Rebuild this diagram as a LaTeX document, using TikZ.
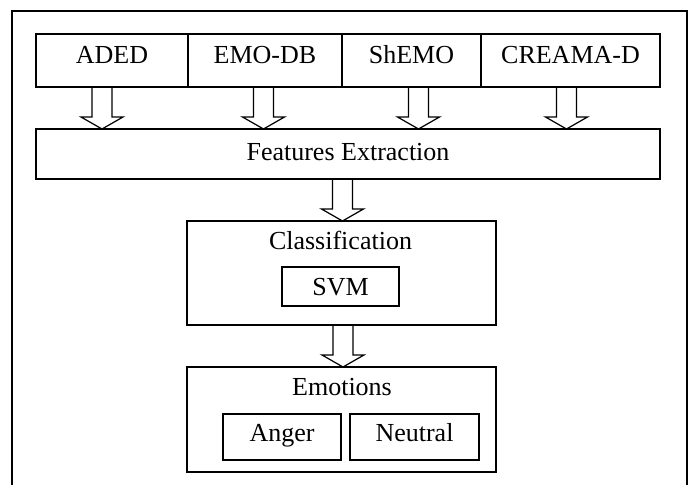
\documentclass[tikz,border=0pt]{standalone}
\usepackage{fontspec}
\setmainfont{Liberation Serif}
\usetikzlibrary{calc}
\begin{document}
\begin{tikzpicture}[x=1pt,y=-1pt,
  every node/.style={font=\fontsize{26}{31}\selectfont, inner sep=0pt, outer sep=0pt},
  box/.style={draw, line width=1.2pt, rectangle},
  topbox/.style={box, minimum height=53pt, text height=17.5pt, text depth=12.5pt},
  featbox/.style={box, minimum height=50pt, text height=18pt, text depth=6pt},
  groupbox/.style={box},
  svmbox/.style={box, text height=17pt, text depth=0pt},
  leafbox/.style={box, minimum height=46pt, text height=18pt, text depth=10pt},
  arrowline/.style={draw, line width=1.2pt, line join=miter},
  frame/.style={line width=1.8pt}]
\useasboundingbox (0,0) rectangle (694,485);
% outer frame (open at the bottom)
\draw[frame] (12,485) -- (12,11) -- (687,11) -- (687,485);
% databases
\node[topbox, minimum width=152pt] (aded) at (112,60.5) {ADED};
\node[topbox, minimum width=154pt] (emodb) at (265,60.5) {EMO-DB};
\node[topbox, minimum width=139pt] (shemo) at (411.5,60.5) {ShEMO};
\node[topbox, minimum width=179pt] (creama) at (570.5,60.5) {CREAMA-D};
% features extraction
\node[featbox, minimum width=624pt] (feat) at (348,154) {Features Extraction};
% classification
\node[groupbox, minimum width=309pt, minimum height=104pt] (cls) at (341.5,273) {};
\node[anchor=base] (clstitle) at (340.5,249) {Classification};
\node[svmbox, minimum width=117pt, minimum height=39pt] (svm) at (340.5,286.5) {SVM};
% emotions
\node[groupbox, minimum width=309pt, minimum height=105pt] (emo) at (341.5,419.5) {};
\node[anchor=base] (emotitle) at (342,395) {Emotions};
\node[leafbox, minimum width=118pt] (anger) at (282,437) {Anger};
\node[leafbox, minimum width=129pt] (neutral) at (414.5,437) {Neutral};
% block arrows
\newcommand\blockarrow[3]{%
  \coordinate (ba-s) at (#3,0 |- #1.south);
  \coordinate (ba-t) at (#3,0 |- #2.north);
  \draw[arrowline] ($(ba-s)+(-10,0)$) -- ($(ba-t)+(-10,-12)$) -- ($(ba-t)+(-21,-12)$)
    -- (ba-t) -- ($(ba-t)+(21,-12)$) -- ($(ba-t)+(10,-12)$) -- ($(ba-s)+(10,0)$);
}
\blockarrow{aded}{feat}{102}
\blockarrow{emodb}{feat}{263.5}
\blockarrow{shemo}{feat}{418.5}
\blockarrow{creama}{feat}{566.5}
\blockarrow{feat}{cls}{342.5}
\blockarrow{cls}{emo}{343}
\end{tikzpicture}
\end{document}
